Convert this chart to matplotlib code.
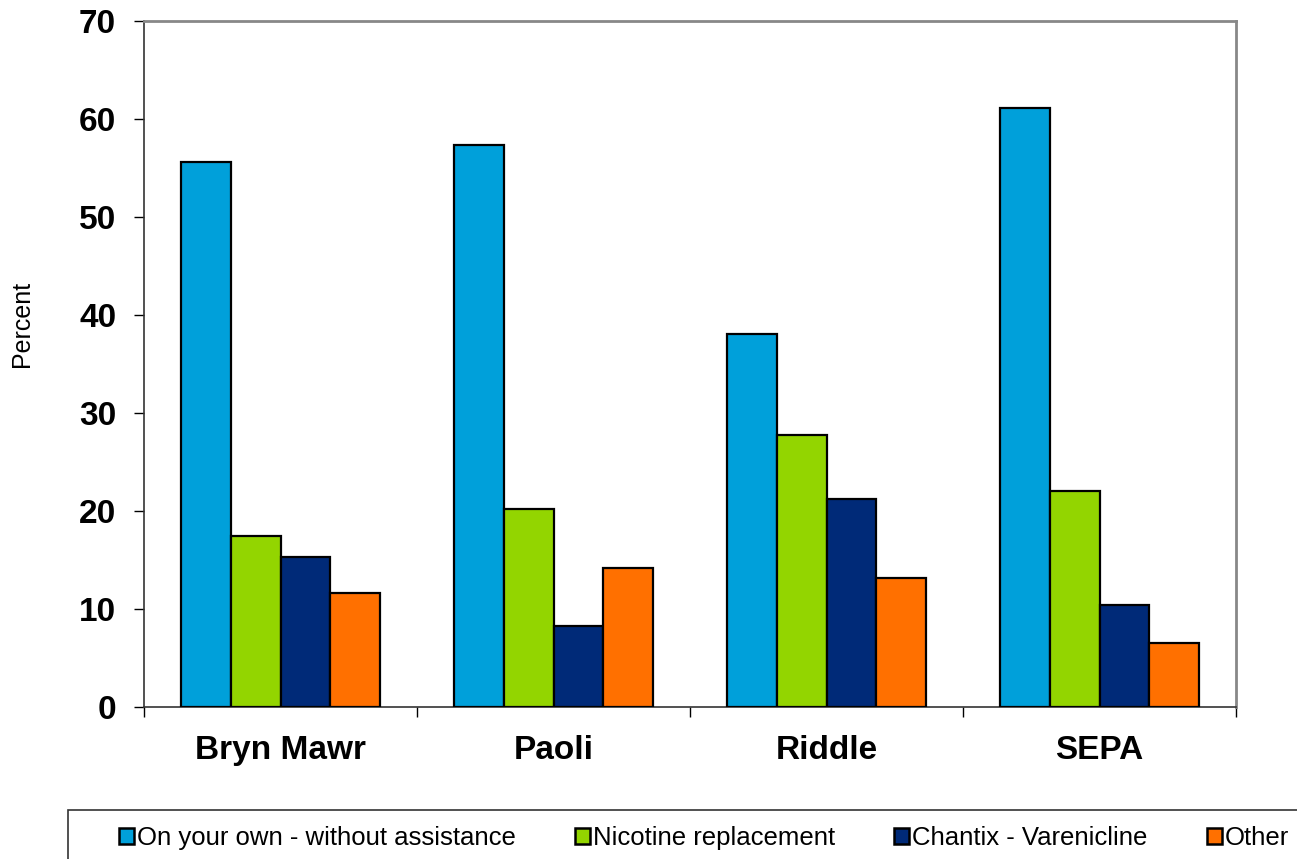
import matplotlib
matplotlib.use('Agg')
import matplotlib.pyplot as plt
import numpy as np
from matplotlib.patches import Rectangle, Patch
from matplotlib.ticker import FixedLocator

plt.rcParams['font.family'] = ['Liberation Sans', 'DejaVu Sans']

# data
sites = ['Bryn Mawr', 'Paoli', 'Riddle', 'SEPA']
series = ['On your own - without assistance', 'Nicotine replacement',
          'Chantix - Varenicline', 'Other']
on_own = [55.6, 57.3, 38.1, 61.1]
nicotine = [17.4, 20.2, 27.8, 22.0]
chantix = [15.3, 8.3, 21.2, 10.4]
other = [11.6, 14.2, 13.2, 6.5]
colors = ['#00A0DA', '#93D500', '#002A78', '#FF7000']

fig = plt.figure(figsize=(12.97, 8.59), dpi=100)
ax = fig.add_axes([144/1297, 1-707/859, (1236-144)/1297, (707-21)/859])

x = np.arange(len(sites))
w = 0.1818
for i, vals in enumerate([on_own, nicotine, chantix, other]):
    ax.bar(x + (i - 1.5)*w, vals, w, color=colors[i], edgecolor='black',
           linewidth=1.6, zorder=3)

ax.set_xlim(-0.5, len(sites) - 0.5)
ax.set_ylim(0, 70)
ax.set_yticks(range(0, 71, 10))
ax.set_xticks(x)
ax.set_xticklabels(sites, fontsize=24, fontweight='bold')
ax.xaxis.set_minor_locator(FixedLocator(np.arange(-0.5, len(sites), 1)))
ax.tick_params(axis='x', which='major', length=0, pad=20)
ax.tick_params(axis='x', which='minor', length=7, direction='out', width=1)
ax.tick_params(axis='y', length=7, direction='out', width=1, pad=13, labelsize=24)
for lb in ax.get_yticklabels():
    lb.set_fontweight('bold')

for s in ['left', 'bottom']:
    ax.spines[s].set_color('#333333')
    ax.spines[s].set_linewidth(1.2)
for s in ['top', 'right']:
    ax.spines[s].set_color('#888888')
    ax.spines[s].set_linewidth(2)

fig.text(22/1297, 1-324/859, 'Percent', rotation=90, ha='center', va='center',
         fontsize=18)

# legend box runs off the page edge
fig.patches.append(Rectangle((68/1297, 0-0.05), 1.1, (1-810/859) + 0.05,
                             transform=fig.transFigure, fill=False,
                             edgecolor='#333333', linewidth=1.2))
handles = [Patch(facecolor=c, edgecolor='black', linewidth=1.8) for c in colors]
fig.legend(handles, series, loc='center', bbox_to_anchor=(704/1297, 1-838/859),
           ncol=4, frameon=False, fontsize=18.5, handlelength=0.58,
           handleheight=0.58, handletextpad=0.12, columnspacing=2.3)

fig.savefig('out.png', dpi=100)
